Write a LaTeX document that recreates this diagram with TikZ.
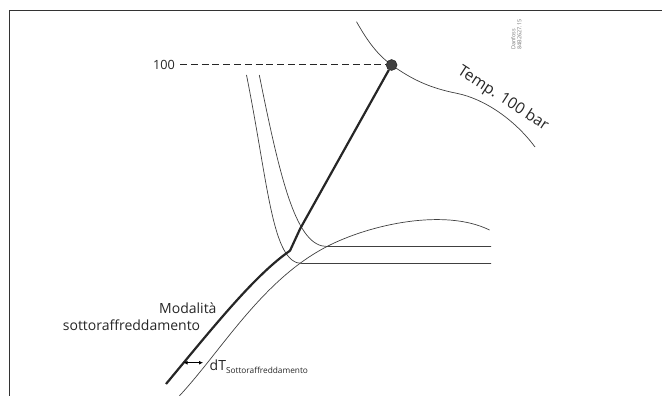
\documentclass[tikz,border=0pt]{standalone}
\usepackage{fontspec}
\setmainfont{Open Sans}
\usetikzlibrary{arrows.meta}
\begin{document}
\begin{tikzpicture}[x=1pt,y=-1pt,
    iso/.style={black!75,line width=0.7pt},
    heavy/.style={black!85,line width=2.2pt,line join=round},
    dotc/.style={circle,fill=black!75,draw=black!90,inner sep=0pt,minimum size=11pt},
    lbl/.style={font=\fontsize{14}{16}\selectfont,text=black!85,inner sep=0pt}]
  \useasboundingbox (0,0) rectangle (662,396);
  % frame
  \draw[black!80,line width=1.5pt] (9.5,396) -- (9.5,10.5) -- (662,10.5);
  % saturation curve
  \draw[iso] (179.3,396) .. controls (222,350) and (262,280) .. (327,246.5)
    .. controls (370,224.3) and (445,208) .. (489.5,230);
  % isotherms
  \draw[iso] (246.5,75) .. controls (268.5,185) and (272,263.5) .. (302,263.5) -- (491,263.5);
  \draw[iso] (259.3,75) .. controls (281.3,185) and (297,246.5) .. (327,246.5) -- (491,246.5);
  % 100 bar temperature
  \draw[iso] (356.5,21.7) .. controls (368,42) and (377.7,54.9) .. (391.7,65)
    .. controls (412,79.6) and (430,88) .. (456.7,93.3)
    .. controls (484.7,98.9) and (515,120) .. (535,147);
  \node[dotc] (p100) at (391.6,65) {};
  \node[lbl,font=\fontsize{12.7}{14}\selectfont,anchor=east] (v100) at (175,65) {100};
  \draw[black!85,line width=1pt,dash pattern=on 7pt off 3.8pt,shorten <=5pt] (v100.east) -- (p100);
  % subcooling path
  \draw[heavy] (166,384) .. controls (215,325) and (255,275) .. (290,250.7)
    -- (300,229) -- (p100);
  \node[lbl,anchor=base east] (mod) at (216.7,313.3) {Modalità};
  \node[lbl,anchor=base east] (sotto) at (200.4,330) {sottoraffreddamento};
  \node[lbl,font=\fontsize{15.5}{17}\selectfont,rotate=-33] (temp) at (503,99) {Temp. 100 bar};
  \coordinate (dtl) at (183.5,362.7);
  \coordinate (dtr) at (203,362.7);
  \draw[{Latex[length=4pt,width=4pt]}-{Latex[length=4pt,width=4pt]},line width=0.8pt] (dtl) -- (dtr);
  \node[lbl,anchor=base west] (dt) at (209.5,370.5)
    {dT\raisebox{-2.7pt}{\fontsize{8.3}{10}\selectfont Sottoraffreddamento}};
  \node[rotate=90,anchor=north west,align=left,font=\fontsize{5.5}{6}\selectfont,
    text=black!55,inner sep=0pt] (ref) at (511,50) {Danfoss\\84B2627.15};
\end{tikzpicture}
\end{document}
